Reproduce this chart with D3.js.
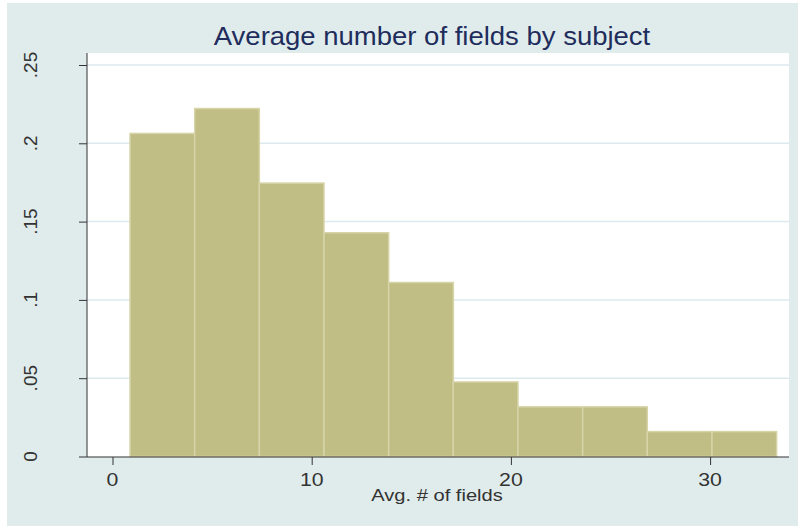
<!DOCTYPE html>
<html>
<head>
<meta charset="utf-8">
<script src="https://cdn.jsdelivr.net/npm/d3@7"></script>
<style>
  html, body { margin: 0; padding: 0; background: #fff; }
  svg { display: block; font-family: Arial, "Liberation Sans", sans-serif; }
</style>
</head>
<body>
<svg id="canvas" width="801" height="526"></svg>
<script>
// histogram bins (Avg. # of fields), fraction per bin
const binStart = 0.88;
const binWidth = 3.246;
const fractions = [0.2063, 0.2222, 0.1746, 0.1429, 0.1111, 0.0476, 0.0317, 0.0317, 0.0159, 0.0159];
const xTicks = [0, 10, 20, 30];
const yTicks = [0, 0.05, 0.1, 0.15, 0.2, 0.25];
const yTickLabels = ['0', '.05', '.1', '.15', '.2', '.25'];

const titleText = 'Average number of fields by subject';
const xTitle = 'Avg. # of fields';

const svg = d3.select('#canvas');
const W = 801, H = 526;

// plot region
const plot = { left: 87, top: 53, right: 789, bottom: 457 };

const bins = fractions.map((v, i) => ({
  x0: binStart + i * binWidth,
  x1: binStart + (i + 1) * binWidth,
  v: v
}));

const x = d3.scaleLinear().domain([0, 10]).range([112.5, 311.7]);
const y = d3.scaleLinear().domain([0, 0.25]).range([456.5, 65]);

// stata text looks a bit wider than Arial, stretch it horizontally
function stretchedText(g, tx, ty, size, sx, color, str) {
  return g.append('text')
    .attr('transform', `translate(${tx},${ty}) scale(${sx},1)`)
    .attr('text-anchor', 'middle')
    .attr('font-size', size)
    .attr('fill', color)
    .text(str);
}

// graph region background
svg.append('rect')
  .attr('x', 7).attr('y', 3)
  .attr('width', W - 10).attr('height', H - 3)
  .attr('fill', '#E0ECEC');

// plot area
svg.append('rect')
  .attr('x', plot.left).attr('y', plot.top)
  .attr('width', plot.right - plot.left).attr('height', plot.bottom - plot.top)
  .attr('fill', '#fff');

// gridlines
svg.append('g').selectAll('line')
  .data(yTicks.filter(d => d > 0))
  .join('line')
  .attr('x1', plot.left).attr('x2', plot.right)
  .attr('y1', d => y(d)).attr('y2', d => y(d))
  .attr('stroke', '#DCE9EE').attr('stroke-width', 1.5);

// bars
svg.append('g').selectAll('rect')
  .data(bins)
  .join('rect')
  .attr('x', d => x(d.x0))
  .attr('y', d => y(d.v))
  .attr('width', d => x(d.x1) - x(d.x0))
  .attr('height', d => y(0) - y(d.v))
  .attr('fill', '#C0BE84')
  .attr('stroke', '#D6D4A8')
  .attr('stroke-width', 1.5);

// y axis
const yAxis = svg.append('g')
  .attr('transform', `translate(${plot.left},0)`)
  .call(d3.axisLeft(y).tickValues(yTicks).tickSize(8).tickFormat(''));
yAxis.select('.domain').attr('d', `M0,${plot.top}V${plot.bottom}`).attr('stroke', '#333');
yAxis.selectAll('.tick line').attr('stroke', '#333');
yAxis.selectAll('.tick text').remove();

const yLab = svg.append('g');
yTicks.forEach((t, i) => {
  yLab.append('text')
    .attr('transform', `translate(37,${y(t)}) rotate(-90)`)
    .attr('text-anchor', 'middle')
    .attr('font-size', 19)
    .attr('fill', '#333')
    .text(yTickLabels[i]);
});

// x axis
const xAxis = svg.append('g')
  .attr('transform', `translate(0,${plot.bottom})`)
  .call(d3.axisBottom(x).tickValues(xTicks).tickSize(8).tickFormat(''));
xAxis.select('.domain').attr('d', `M${plot.left},0H${plot.right}`).attr('stroke', '#333');
xAxis.selectAll('.tick line').attr('stroke', '#333');
xAxis.selectAll('.tick text').remove();

const xLab = svg.append('g');
xTicks.forEach(t => {
  stretchedText(xLab, x(t), 486, 19, 1.12, '#333', d3.format('d')(t));
});

const cx = (plot.left + plot.right) / 2;

stretchedText(svg, 437, 501, 16.5, 1.22, '#333', xTitle);
stretchedText(svg, 432, 44.5, 25, 1.1, '#1F2D5C', titleText);
</script>
</body>
</html>
